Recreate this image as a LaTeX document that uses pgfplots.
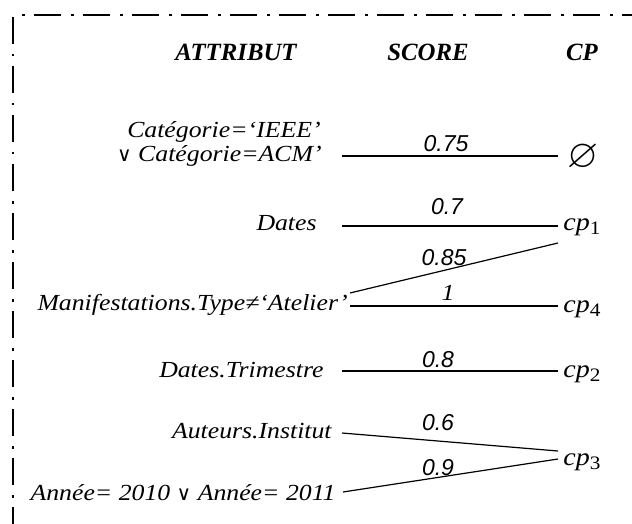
\documentclass[border=0pt]{standalone}
\usepackage{amssymb}
\usepackage{pgfplots}
\pgfplotsset{compat=1.18}
\usepackage{fontspec}
\setmainfont{Liberation Serif}
\newfontfamily\wideserif[FakeStretch=1.12]{Liberation Serif}
\newfontfamily\sansf{Liberation Sans}
\newfontfamily\dejavu{DejaVu Sans}
\newcommand{\orr}{{\dejavu\fontsize{10}{11}\selectfont ∨}}
\newcommand{\cp}[1]{{\fontsize{12.5}{13}\selectfont cp}\raisebox{-0.4ex}{\upshape\fontsize{9.5}{10}\selectfont #1}}
\tikzset{
  lab/.style={font=\wideserif\fontsize{11.5}{13}\selectfont\itshape, inner sep=0pt},
  score/.style={font=\sansf\fontsize{11.5}{12}\selectfont\itshape, inner sep=0pt, anchor=base},
  hdr/.style={font=\fontsize{12.4}{14}\selectfont\bfseries\itshape, inner sep=0pt, anchor=base},
}
\begin{document}
\begin{tikzpicture}
\begin{axis}[
  width=316pt, height=262pt, scale only axis,
  xmin=0, xmax=632, ymin=0, ymax=524, y dir=reverse,
  hide axis, clip=true,
]
% frame
\addplot[draw=black, line width=1.25pt, dash pattern=on 1.25pt off 4.75pt on 13.5pt off 5pt, dash phase=20pt] coordinates {(13,15) (700,15)};
\addplot[draw=black, line width=1.25pt, dash pattern=on 13.5pt off 5pt on 1.25pt off 4.75pt] coordinates {(13,17) (13,600)};
% connectors
\addplot[draw=black, line width=0.6pt] coordinates {(342,156) (558,156)};
\addplot[draw=black, line width=0.6pt] coordinates {(342,226) (558,226)};
\addplot[draw=black, line width=0.6pt] coordinates {(350,293) (558,243)};
\addplot[draw=black, line width=0.6pt] coordinates {(350,306) (558,306)};
\addplot[draw=black, line width=0.6pt] coordinates {(342,371) (558,371)};
\addplot[draw=black, line width=0.6pt] coordinates {(342,433) (558,451)};
\addplot[draw=black, line width=0.6pt] coordinates {(343,492) (558,459)};
% headers
\node[hdr] at (236,61) {ATTRIBUT};
\node[hdr] at (428,61) {SCORE};
\node[hdr] at (582,61) {CP};
% attributes
\node[lab, anchor=base east] at (321,138) {Catégorie=‘IEEE’};
\node[lab, anchor=base east] at (322,162) {\orr\ Catégorie=ACM’};
\node[lab, anchor=base east] at (317,230) {Dates};
\node[lab, anchor=base east] at (348,310) {Manifestations.Type≠‘Atelier’};
\node[lab, anchor=base east] at (324,377) {Dates.Trimestre};
\node[lab, anchor=base east] at (332,438) {Auteurs.Institut};
\node[lab, anchor=base east] at (336,500) {Année= 2010 \orr\ Année= 2011};
% scores
\node[score] at (446,152) {0.75};
\node[score] at (447,214) {0.7};
\node[score] at (444,265) {0.85};
\node[lab, anchor=base] at (448,300) {1};
\node[score] at (438,367) {0.8};
\node[score] at (438,430) {0.6};
\node[score] at (438,475) {0.9};
% CP
\node[inner sep=0pt] at (583,158) {\fontsize{20}{20}\selectfont$\varnothing$};
\node[lab, anchor=base west] at (563,230) {\cp{1}};
\node[lab, anchor=base west] at (563,312) {\cp{4}};
\node[lab, anchor=base west] at (563,377) {\cp{2}};
\node[lab, anchor=base west] at (563,465) {\cp{3}};
\end{axis}
\pgfresetboundingbox
\useasboundingbox (current axis.south west) rectangle (current axis.north east);
\end{tikzpicture}
\end{document}
